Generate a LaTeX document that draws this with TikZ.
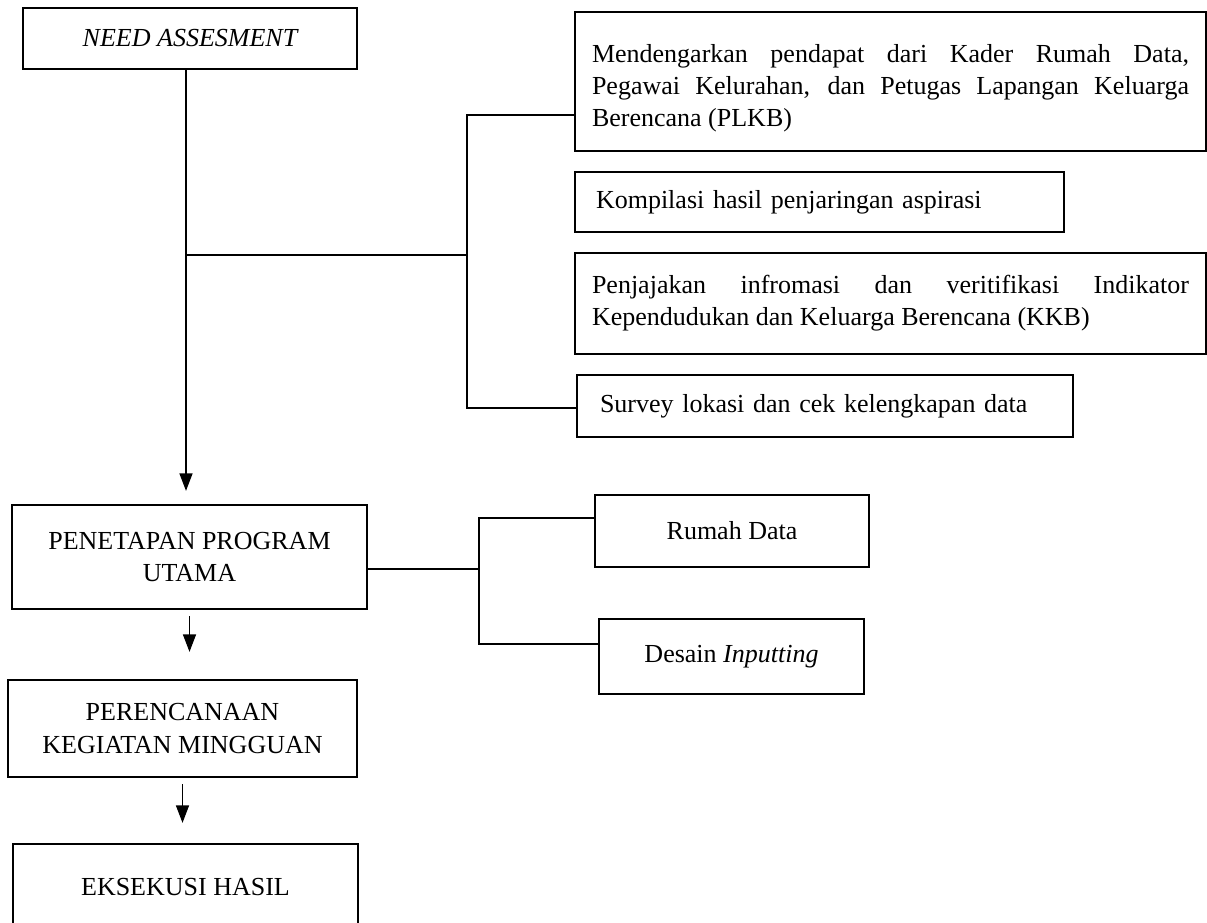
\documentclass[tikz,border=0pt]{standalone}
\usepackage{fontspec}
\setmainfont{Liberation Serif}
\usepackage{tikz}
\usetikzlibrary{positioning,arrows.meta,calc}
\newcommand{\satuan}{0.4615pt}

\begin{document}
\begin{tikzpicture}[x=0.4615pt,y=-0.4615pt,
    kotak/.style={draw,line width=1.1pt,inner sep=0pt,font=\fontsize{12}{14.8}\selectfont,align=center},
    garis/.style={line width=0.5pt},
    panah/.style={line width=0.5pt,-{Triangle[width=6pt,length=8pt]}}]
% Page size = reference size in pixels
\useasboundingbox (0,0) rectangle (1207,922);

% Left column
\node[kotak,minimum width=334*\satuan,minimum height=61*\satuan,font=\fontsize{12}{14.8}\selectfont\itshape] (need) at (190,38.5) {NEED ASSESMENT};
\node[kotak,minimum width=355*\satuan,minimum height=104*\satuan] (penetapan) at (189.5,557) {PENETAPAN PROGRAM\\UTAMA};
\node[kotak,minimum width=349*\satuan,minimum height=97*\satuan] (perencanaan) at (182.5,728.5) {PERENCANAAN\\KEGIATAN MINGGUAN};
\node[kotak,minimum width=345*\satuan,minimum height=86*\satuan] (eksekusi) at (185.5,887) {EKSEKUSI HASIL};

% Need assesment branches
\node[kotak,minimum width=631*\satuan,minimum height=139*\satuan,text width=597*\satuan,align=justify] (mendengar) at (890.5,81.5)
    {\rule{0pt}{14.7pt}Mendengarkan pendapat dari Kader Rumah Data,\linebreak Pegawai Kelurahan, dan Petugas Lapangan Keluarga\linebreak Berencana (PLKB)};
\node[kotak,minimum width=489*\satuan,minimum height=60*\satuan,text width=447*\satuan,align=left] (kompilasi) at (819.5,202)
    {Kompilasi hasil penjaringan aspirasi};
\node[kotak,minimum width=631*\satuan,minimum height=101*\satuan,text width=597*\satuan,align=justify] (penjajakan) at (890.5,303.5)
    {Penjajakan infromasi dan veritifikasi Indikator\linebreak Kependudukan dan Keluarga Berencana (KKB)};
\node[kotak,minimum width=496*\satuan,minimum height=62*\satuan,text width=450*\satuan,align=left] (survey) at (825,406)
    {Survey lokasi dan cek kelengkapan data};

% Program branches
\node[kotak,minimum width=274*\satuan,minimum height=72*\satuan] (rumah) at (732,531) {Rumah Data};
\node[kotak,minimum width=265*\satuan,minimum height=75*\satuan] (desain) at (731.5,656.5) {Desain \textit{Inputting}};

% Bus lines
\coordinate (pusat) at ([xshift=-4*\satuan]need.south);
\coordinate (bus1) at (467,255);
\coordinate (bus1a) at (467,115);
\coordinate (bus1b) at (467,408);
\coordinate (bus2) at (479,569);
\coordinate (bus2a) at (479,518);
\coordinate (bus2b) at (479,644);

\draw[garis] (pusat |- bus1) -- (bus1);
\draw[garis] (mendengar.west |- bus1a) -- (bus1a) -- (bus1b) -- (survey.west |- bus1b);
\draw[garis] (penetapan.east |- bus2) -- (bus2);
\draw[garis] (rumah.west |- bus2a) -- (bus2a) -- (bus2b) -- (desain.west |- bus2b);

% Arrows down the left column
\draw[panah,shorten >=13*\satuan] (pusat) -- (pusat |- penetapan.north);
\draw[panah,shorten <=6*\satuan,shorten >=27*\satuan] (penetapan.south) -- (penetapan.south |- perencanaan.north);
\draw[panah,shorten <=6*\satuan,shorten >=20*\satuan] (perencanaan.south) -- (perencanaan.south |- eksekusi.north);
\end{tikzpicture}
\end{document}
